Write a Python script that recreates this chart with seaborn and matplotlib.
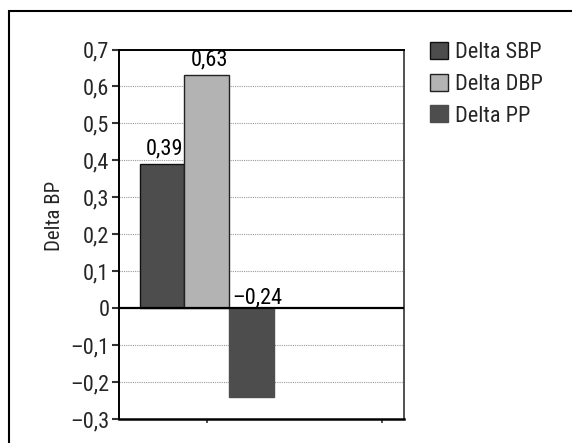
import matplotlib
matplotlib.use("Agg")
import matplotlib.pyplot as plt
import seaborn as sns
import pandas as pd
from matplotlib.patches import Rectangle

# Data
series = ["Delta SBP", "Delta DBP", "Delta PP"]
values = [0.39, 0.63, -0.24]
group = [""] * len(series)
y_ticks = [0.7, 0.6, 0.5, 0.4, 0.3, 0.2, 0.1, 0.0, -0.1, -0.2, -0.3]
bar_colors = ["#4d4d4d", "#b3b3b3", "#4d4d4d"]
edge_colors = ["#111111", "#222222", "#4d4d4d"]

sns.set_style("white")
plt.rcParams["font.family"] = ["Roboto Condensed", "Archivo Narrow", "DejaVu Sans"]

FS = 16

df = pd.DataFrame({"group": group, "series": series, "value": values})

fig = plt.figure(figsize=(5.72, 4.43), dpi=100)
ax = fig.add_axes([119 / 572, 24 / 443, 285 / 572, 369.5 / 443])

sns.barplot(data=df, x="group", y="value", hue="series", hue_order=series,
            palette=bar_colors, width=0.8, ax=ax, legend=True, saturation=1)

# bar edges
for cont, ec in zip(ax.containers, edge_colors):
    for p in cont:
        p.set_edgecolor(ec)
        p.set_linewidth(1.0)


def fmt(v, nd=2):
    if v == 0:
        return "0"
    s = f"{v:.{nd}f}".replace(".", ",")
    return s.replace("-", "\u2013")


# value labels
for cont, v in zip(ax.containers, values):
    p = cont[0]
    xc = p.get_x() + p.get_width() / 2
    dy = 7.0 if v >= 0 else 3.2
    dx = 2.0 if v >= 0 else 4.5
    ax.annotate(fmt(v), xy=(xc, max(v, 0)), xytext=(dx, dy),
                textcoords="offset points", ha="center", va="baseline",
                fontsize=FS, color="black")

# axes limits and ticks
ax.set_ylim(-0.3, 0.7)
ax.set_xlim(-0.524, 1.178)
ax.set_yticks(y_ticks)
ax.set_yticklabels([fmt(t, 1) for t in y_ticks])
ax.set_xticks([0, 1.046])
ax.set_xticklabels(["", ""])
ax.tick_params(axis="y", direction="out", length=5, width=1.5, pad=2,
               labelsize=FS, left=True, color="#333333")
ax.tick_params(axis="x", direction="out", length=3, width=1.2, bottom=True,
               color="#333333")
ax.set_xlabel("")
ax.set_ylabel("")

# grid lines
for t in y_ticks:
    if t != 0:
        ax.axhline(t, color="#999999", lw=0.8, ls=(0, (1, 1)), zorder=0)
ax.axhline(0, color="black", lw=1.6, zorder=3)

for side in ["left", "top", "bottom"]:
    ax.spines[side].set_color("black")
    ax.spines[side].set_linewidth(1.4)
ax.spines["bottom"].set_linewidth(1.8)
ax.spines["right"].set_visible(True)
ax.spines["right"].set_color("#333333")
ax.spines["right"].set_linewidth(1.2)

# legend
leg = ax.get_legend()
handles = leg.legend_handles
leg.remove()
for h, ec in zip(handles, edge_colors):
    h.set_edgecolor(ec)
    h.set_linewidth(1.0)
fig.legend(handles, series, loc="upper left",
           bbox_to_anchor=(430 / 572, 1 - 42 / 443), frameon=False,
           fontsize=FS, handlelength=0.82, handleheight=0.82,
           handletextpad=0.3, labelspacing=0.46, borderpad=0,
           borderaxespad=0)

fig.text(55 / 572, 1 - 216 / 443, "Delta BP", rotation=90, ha="center",
         va="center", fontsize=15)

# outer frame
fig.add_artist(Rectangle((9 / 572, -0.1), 1.2, 1 - 11.5 / 443 + 0.1,
                         transform=fig.transFigure, fill=False,
                         edgecolor="black", lw=1.5))

fig.savefig("out.png", dpi=100)
